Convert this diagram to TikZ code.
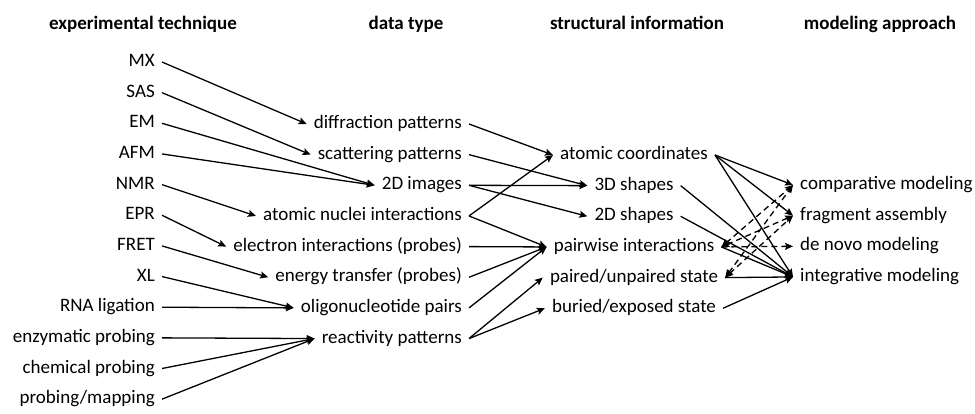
\documentclass[tikz,border=0pt]{standalone}
\usepackage{fontspec}
\setmainfont{Carlito}
\usetikzlibrary{arrows.meta}
\usetikzlibrary{positioning}

\begin{document}
\begin{tikzpicture}[x = 1pt, y = -1pt]
\tikzset{
   node distance = 30.65pt, >={Stealth[length = 8pt, width = 7pt, inset = 1.5pt]},
   word/.style = {inner xsep = 7pt, inner ysep = 0pt, text height = 13pt, text depth = 4pt, font = \fontsize{19}{23}\selectfont},
   header/.style = {word, font = \fontsize{19}{23}\selectfont\bfseries},
   technique/.style = {word, anchor = east},
   datatype/.style = {word, anchor = east},
   structure/.style = {word, anchor = center},
   approach/.style = {word, anchor = west},
   link/.style = {->, line width = 1.3pt},
   maybe/.style = {link, dashed, dash pattern = on 6pt off 4pt}
 }
  \useasboundingbox (0,0) rectangle (975,413);

  % column headers
  \node[header] (h_technique) at (143,25) {experimental technique};
  \node[header] (h_datatype) at (406,25) {data type};
  \node[header] (h_structure) at (637,25) {structural information};
  \node[header] (h_approach) at (880,25) {modeling approach};

  % experimental technique
  \node[technique] (mx) at (162,62) {MX};
  \node[technique] (sas) [below = of mx.east, anchor = east] {SAS};
  \node[technique] (em) [below = of sas.east, anchor = east] {EM};
  \node[technique] (afm) [below = of em.east, anchor = east] {AFM};
  \node[technique] (nmr) [below = of afm.east, anchor = east] {NMR};
  \node[technique] (epr) [below = of nmr.east, anchor = east] {EPR};
  \node[technique] (fret) [below = of epr.east, anchor = east] {FRET};
  \node[technique] (xl) [below = of fret.east, anchor = east] {XL};
  \node[technique] (ligation) [below = of xl.east, anchor = east] {RNA ligation};
  \node[technique] (enzymatic) [below = of ligation.east, anchor = east] {enzymatic probing};
  \node[technique] (chemical) [below = of enzymatic.east, anchor = east] {chemical probing};
  \node[technique] (mapping) [below = of chemical.east, anchor = east] {probing/mapping};

  % data type
  \node[datatype] (diffraction) at (469,124) {diffraction patterns};
  \node[datatype] (scattering) [below = of diffraction.east, anchor = east] {scattering patterns};
  \node[datatype] (images) [below = of scattering.east, anchor = east] {2D images};
  \node[datatype] (nuclei) [below = of images.east, anchor = east] {atomic nuclei interactions};
  \node[datatype] (electron) [below = of nuclei.east, anchor = east] {electron interactions (probes)};
  \node[datatype] (energy) [below = of electron.east, anchor = east] {energy transfer (probes)};
  \node[datatype] (oligo) [below = of energy.east, anchor = east] {oligonucleotide pairs};
  \node[datatype] (reactivity) [below = of oligo.east, anchor = east] {reactivity patterns};

  % structural information
  \node[structure] (coords) at (634,155) {atomic coordinates};
  \node[structure] (shapes3d) [below = of coords.center, anchor = center] {3D shapes};
  \node[structure] (shapes2d) [below = of shapes3d.center, anchor = center] {2D shapes};
  \node[structure] (pairwise) [below = of shapes2d.center, anchor = center] {pairwise interactions};
  \node[structure] (paired) [below = of pairwise.center, anchor = center] {paired/unpaired state};
  \node[structure] (buried) [below = of paired.center, anchor = center] {buried/exposed state};

  % modeling approach
  \node[approach] (comparative) at (793,185) {comparative modeling};
  \node[approach] (fragment) [below = of comparative.west, anchor = west] {fragment assembly};
  \node[approach] (denovo) [below = of fragment.west, anchor = west] {de novo modeling};
  \node[approach] (integrative) [below = of denovo.west, anchor = west] {integrative modeling};

  % technique -> data
  \draw[link] (mx.east) -- (diffraction.west);
  \draw[link] (sas.east) -- (scattering.west);
  \draw[link] (em.east) -- (images.west);
  \draw[link] (afm.east) -- (images.west);
  \draw[link] (nmr.east) -- (nuclei.west);
  \draw[link] (epr.east) -- (electron.west);
  \draw[link] (fret.east) -- (energy.west);
  \draw[link] (xl.east) -- (oligo.west);
  \draw[link] (ligation.east) -- (oligo.west);
  \draw[link] (enzymatic.east) -- (reactivity.west);
  \draw[link] (chemical.east) -- (reactivity.west);
  \draw[link] (mapping.east) -- (reactivity.west);

  % data -> structure
  \draw[link] (diffraction.east) -- (coords.west);
  \draw[link] (scattering.east) -- (shapes3d.west);
  \draw[link] (images.east) -- (shapes3d.west);
  \draw[link] (images.east) -- (shapes2d.west);
  \draw[link] (nuclei.east) -- (coords.west);
  \draw[link] (nuclei.east) -- (pairwise.west);
  \draw[link] (electron.east) -- (pairwise.west);
  \draw[link] (energy.east) -- (pairwise.west);
  \draw[link] (oligo.east) -- (pairwise.west);
  \draw[link] (reactivity.east) -- (paired.west);
  \draw[link] (reactivity.east) -- (buried.west);

  % structure -> approach
  \draw[link] (coords.east) -- (comparative.west);
  \draw[link] (coords.east) -- (fragment.west);
  \draw[link] (coords.east) -- (integrative.west);
  \draw[link] (shapes3d.east) -- (integrative.west);
  \draw[link] (shapes2d.east) -- (integrative.west);
  \draw[link] (pairwise.east) -- (integrative.west);
  \draw[link] (paired.east) -- (integrative.west);
  \draw[link] (buried.east) -- (integrative.west);
  \draw[maybe, <->] (pairwise.east) -- (comparative.west);
  \draw[maybe, <->] (pairwise.east) -- (fragment.west);
  \draw[maybe, <->] (paired.east) -- (comparative.west);
  \draw[maybe, <->] (paired.east) -- (fragment.west);
  \draw[maybe] (pairwise.east) -- (denovo.west);

\end{tikzpicture}
\end{document}
